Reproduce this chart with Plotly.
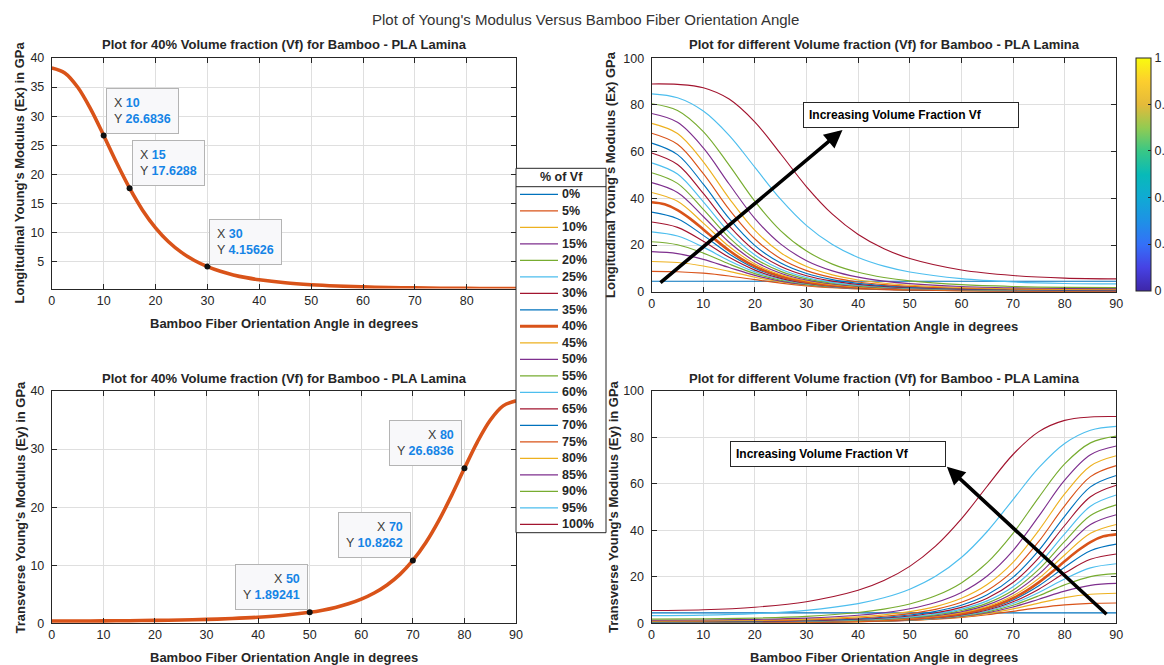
import plotly.graph_objects as go

W, H = 1164, 665
FONT = "Liberation Sans, Arial, Helvetica, sans-serif"
DARK = "#262626"
GRID = "#dfdfdf"
TIPBLUE = "#1584e6"

# ---------------- data ----------------
# fibre orientation angles (deg)
angles = [0, 5, 10, 15, 20, 25, 30, 35, 40, 45, 50, 60, 70, 80, 90]
angles_40 = [0, 2.5, 5, 7.5, 10, 12.5, 15, 17.5, 20, 22.5, 25, 27.5, 30, 32.5, 35, 37.5, 40,
             45, 50, 55, 60, 65, 70, 75, 80, 85, 90]

# longitudinal modulus Ex (GPa) for 40 % Vf
ex_40 = [38.3, 37.44, 34.97, 31.21, 26.6836, 21.99, 17.6288, 13.86, 10.8262, 8.431, 6.601, 5.210,
         4.15626, 3.351, 2.737, 2.262, 1.89241, 1.372, 1.039, 0.819, 0.671, 0.569, 0.498, 0.450,
         0.419, 0.401, 0.396]

# longitudinal modulus Ex (GPa) for the other volume fractions
ex_00 = [4.5, 4.5, 4.5, 4.5, 4.5, 4.5, 4.5, 4.5, 4.5, 4.5, 4.5, 4.5, 4.5, 4.5, 4.5]
ex_05 = [8.725, 8.552, 7.929, 6.730, 5.156, 3.659, 2.514, 1.736, 1.230, 0.903, 0.688, 0.445, 0.331, 0.278, 0.263]
ex_10 = [12.95, 12.49, 11.03, 8.702, 6.184, 4.143, 2.748, 1.860, 1.305, 0.953, 0.724, 0.469, 0.348, 0.293, 0.276]
ex_15 = [17.175, 16.34, 13.87, 10.36, 7.013, 4.545, 2.956, 1.982, 1.383, 1.007, 0.764, 0.494, 0.367, 0.309, 0.292]
ex_20 = [21.4, 20.11, 16.53, 11.86, 7.764, 4.925, 3.166, 2.109, 1.467, 1.067, 0.810, 0.523, 0.389, 0.327, 0.309]
ex_25 = [25.625, 23.85, 19.09, 13.29, 8.496, 5.312, 3.389, 2.249, 1.562, 1.134, 0.860, 0.556, 0.413, 0.348, 0.328]
ex_30 = [29.85, 27.55, 21.61, 14.71, 9.245, 5.724, 3.633, 2.404, 1.667, 1.211, 0.918, 0.593, 0.441, 0.371, 0.350]
ex_35 = [34.075, 31.25, 24.14, 16.17, 10.04, 6.175, 3.905, 2.580, 1.788, 1.298, 0.984, 0.636, 0.472, 0.397, 0.375]
ex_45 = [42.525, 38.73, 29.41, 19.35, 11.87, 7.252, 4.571, 3.015, 2.088, 1.515, 1.148, 0.742, 0.551, 0.464, 0.438]
ex_50 = [46.75, 42.54, 32.23, 21.16, 12.97, 7.917, 4.989, 3.290, 2.278, 1.653, 1.253, 0.810, 0.602, 0.506, 0.478]
ex_55 = [50.975, 46.42, 35.25, 23.20, 14.24, 8.701, 5.485, 3.619, 2.506, 1.818, 1.378, 0.891, 0.662, 0.557, 0.526]
ex_60 = [55.2, 50.40, 38.51, 25.52, 15.74, 9.641, 6.088, 4.020, 2.785, 2.021, 1.532, 0.990, 0.736, 0.619, 0.585]
ex_65 = [59.425, 54.50, 42.10, 28.21, 17.54, 10.80, 6.834, 4.518, 3.132, 2.274, 1.724, 1.115, 0.828, 0.697, 0.659]
ex_70 = [63.65, 58.74, 46.07, 31.39, 19.76, 12.25, 7.785, 5.157, 3.579, 2.600, 1.972, 1.275, 0.948, 0.797, 0.753]
ex_75 = [67.875, 63.15, 50.56, 35.24, 22.57, 14.14, 9.037, 6.005, 4.173, 3.034, 2.302, 1.489, 1.107, 0.931, 0.880]
ex_80 = [72.1, 67.75, 55.67, 40.02, 26.26, 16.70, 10.76, 7.184, 5.005, 3.643, 2.766, 1.790, 1.330, 1.119, 1.058]
ex_85 = [76.325, 72.57, 61.61, 46.13, 31.32, 20.38, 13.30, 8.937, 6.248, 4.557, 3.463, 2.243, 1.667, 1.403, 1.325]
ex_90 = [80.55, 77.67, 68.60, 54.24, 38.72, 26.09, 17.39, 11.82, 8.313, 6.082, 4.630, 3.002, 2.232, 1.878, 1.774]
ex_95 = [84.775, 83.10, 77.41, 66.99, 53.26, 39.52, 28.31, 20.21, 14.68, 10.97, 8.462, 5.573, 4.174, 3.524, 3.333]
ex_100 = [89.0, 88.81, 87.37, 82.52, 72.66, 59.00, 44.95, 33.21, 24.51, 18.40, 14.20, 9.299, 6.924, 5.823, 5.5]

vf_labels = ["0%", "5%", "10%", "15%", "20%", "25%", "30%", "35%", "40%", "45%", "50%",
             "55%", "60%", "65%", "70%", "75%", "80%", "85%", "90%", "95%", "100%"]

# data-tip angles
tip_top_angles = [10, 15, 30]
tip_bottom_angles = [50, 70, 80]

# ---------------- styling ----------------
matlab_cycle = ["#0072BD", "#D95319", "#EDB120", "#7E2F8E", "#77AC30", "#4DBEEE", "#A2142F"]
family = [ex_00, ex_05, ex_10, ex_15, ex_20, ex_25, ex_30, ex_35, ex_40, ex_45, ex_50,
          ex_55, ex_60, ex_65, ex_70, ex_75, ex_80, ex_85, ex_90, ex_95, ex_100]
colors = [matlab_cycle[i % 7] for i in range(len(vf_labels))]

parula = [
    [0.0, "rgb(62,38,168)"], [0.1, "rgb(70,66,228)"], [0.2, "rgb(52,112,248)"],
    [0.3, "rgb(30,145,230)"], [0.4, "rgb(16,170,212)"], [0.5, "rgb(8,186,184)"],
    [0.6, "rgb(56,199,134)"], [0.7, "rgb(146,203,82)"], [0.8, "rgb(228,186,58)"],
    [0.9, "rgb(252,206,46)"], [1.0, "rgb(249,251,14)"],
]


def px_x(p):
    return p / W


def px_y(p):
    return 1 - p / H


fig = go.Figure()

# ---- top-left: 40 % Ex ----
fig.add_trace(go.Scatter(x=angles_40, y=ex_40, mode="lines", line=dict(color="#D95319", width=3.6, shape="spline"),
                         xaxis="x", yaxis="y", hoverinfo="skip"))
tl_y = [ex_40[angles_40.index(a)] for a in tip_top_angles]
fig.add_trace(go.Scatter(x=tip_top_angles, y=tl_y, mode="markers", marker=dict(color="#111", size=6),
                         xaxis="x", yaxis="y", hoverinfo="skip"))

# ---- bottom-left: 40 % Ey (mirror of Ex) ----
angles_40_t = [90 - a for a in angles_40]
fig.add_trace(go.Scatter(x=angles_40_t, y=ex_40, mode="lines", line=dict(color="#D95319", width=3.6, shape="spline"),
                         xaxis="x3", yaxis="y3", hoverinfo="skip"))
bl_y = [ex_40[angles_40.index(90 - a)] for a in tip_bottom_angles]
fig.add_trace(go.Scatter(x=tip_bottom_angles, y=bl_y, mode="markers", marker=dict(color="#111", size=6),
                         xaxis="x3", yaxis="y3", hoverinfo="skip"))

# ---- right: families ----
for lab, ys, col in zip(vf_labels, family, colors):
    xs = angles_40 if ys is ex_40 else angles
    w = 2.6 if lab == "40%" else 1.15
    fig.add_trace(go.Scatter(x=xs, y=ys, mode="lines", line=dict(color=col, width=w, shape="spline"),
                             xaxis="x2", yaxis="y2", hoverinfo="skip"))
    fig.add_trace(go.Scatter(x=[90 - a for a in xs], y=ys, mode="lines",
                             line=dict(color=col, width=w, shape="spline"),
                             xaxis="x4", yaxis="y4", hoverinfo="skip"))

# colour bar (invisible carrier marker)
fig.add_trace(go.Scatter(
    x=[angles[0]], y=[ex_100[0]], mode="markers", xaxis="x2", yaxis="y2", hoverinfo="skip",
    marker=dict(size=1, opacity=0, color=[0], cmin=0, cmax=1, colorscale=parula, showscale=True,
                colorbar=dict(x=px_x(1136), xanchor="left", xpad=0, ypad=0,
                              y=px_y(174.2), yanchor="middle", len=(290.5 - 57.8) / H, lenmode="fraction",
                              thickness=14.5, outlinecolor=DARK, outlinewidth=1,
                              tickvals=[0, 0.2, 0.4, 0.6, 0.8, 1], ticktext=["0", "0.2", "0.4", "0.6", "0.8", "1"],
                              ticks="inside", ticklen=3, tickcolor=DARK,
                              tickfont=dict(family=FONT, size=12.5, color=DARK)))))

# ---------------- axes ----------------
def ax(**kw):
    base = dict(showline=True, linecolor=DARK, linewidth=1, mirror="ticks", ticks="inside", ticklen=5,
                tickwidth=1, tickcolor=DARK, showgrid=True, gridcolor=GRID, gridwidth=1, zeroline=False,
                tickfont=dict(family=FONT, size=12.5, color=DARK), fixedrange=True)
    base.update(kw)
    return base


fig.update_layout(
    width=W, height=H, margin=dict(l=0, r=0, t=0, b=0, autoexpand=False),
    paper_bgcolor="white", plot_bgcolor="white",
    showlegend=False,
    xaxis=ax(domain=[px_x(51.8), px_x(516)], range=[0, 89.5], tickvals=[0, 10, 20, 30, 40, 50, 60, 70, 80], anchor="y"),
    yaxis=ax(domain=[px_y(288.5), px_y(58)], range=[0.396, 40], tickvals=[5, 10, 15, 20, 25, 30, 35, 40], anchor="x",
             ticklabelstandoff=4),
    xaxis2=ax(domain=[px_x(651.7), px_x(1116.3)], range=[0, 90], dtick=10, anchor="y2"),
    yaxis2=ax(domain=[px_y(291.7), px_y(58.3)], range=[0, 100], dtick=20, anchor="x2", ticklabelstandoff=4),
    xaxis3=ax(domain=[px_x(51.8), px_x(516)], range=[0, 90], dtick=10, anchor="y3"),
    yaxis3=ax(domain=[px_y(623.3), px_y(391)], range=[0, 40], dtick=10, anchor="x3", ticklabelstandoff=4),
    xaxis4=ax(domain=[px_x(651.5), px_x(1116.3)], range=[0, 90], dtick=10, anchor="y4"),
    yaxis4=ax(domain=[px_y(623.3), px_y(391)], range=[0, 100], dtick=20, anchor="x4", ticklabelstandoff=4),
)

ann = []


def text(x, y, s, size=13, bold=True, angle=0, color=DARK, xanchor="center"):
    ann.append(dict(x=px_x(x), y=px_y(y), xref="paper", yref="paper", text=s, showarrow=False,
                    textangle=angle, xanchor=xanchor, yanchor="middle",
                    font=dict(family=FONT, size=size, color=color, weight="bold" if bold else "normal")))


# super title & titles
text(585, 19, "Plot of Young's Modulus Versus Bamboo Fiber Orientation Angle", size=15, bold=False, color="#333333")
text(284, 44.5, "Plot for 40% Volume fraction (Vf) for Bamboo - PLA Lamina", size=13)
text(884, 44.5, "Plot for different Volume fraction (Vf) for Bamboo - PLA Lamina", size=13)
text(284, 378, "Plot for 40% Volume fraction (Vf) for Bamboo - PLA Lamina", size=13)
text(884, 378, "Plot for different Volume fraction (Vf) for Bamboo - PLA Lamina", size=13)
# x titles
for cx, cy in [(284, 324), (884, 326), (284, 657), (884, 657)]:
    text(cx, cy, "Bamboo Fiber Orientation Angle in degrees", size=13)
# y titles
text(19.5, 173, "Longitudinal Young's Modulus (Ex) in GPa", size=13, angle=-90)
text(611, 175, "Longitudinal Young's Modulus (Ex) GPa", size=13, angle=-90)
text(19.5, 507, "Transverse Young's Modulus (Ey) in GPa", size=13, angle=-90)
text(613, 507, "Transverse Young's Modulus (Ey) in GPa", size=13, angle=-90)


# data tips
def tip(xv, yv, axx, axy, right=False):
    s = (f"X <b><span style='color:{TIPBLUE}'>{xv:g}</span></b><br>"
         f"Y <b><span style='color:{TIPBLUE}'>{yv:g}</span></b>")
    ann.append(dict(x=xv, y=yv, xref=axx, yref=axy, text=s, showarrow=False,
                    xanchor="right" if right else "left", yanchor="bottom",
                    xshift=-2 if right else 2, yshift=2, align="right" if right else "left",
                    bgcolor="#f8f8fa", bordercolor="#b4b4b4", borderwidth=1, borderpad=7,
                    font=dict(family=FONT, size=12.5, color="#3c3c3c")))


for a, v in zip(tip_top_angles, tl_y):
    tip(a, v, "x", "y")
for a, v in zip(tip_bottom_angles, bl_y):
    tip(a, v, "x3", "y3", right=True)

# arrows with text boxes
ann.append(dict(x=36.96, y=69.3, ax=1.4, ay=3.3, xref="x2", yref="y2", axref="x2", ayref="y2", text="",
                showarrow=True, arrowhead=2, arrowsize=1.0, arrowwidth=3.6, arrowcolor="black", standoff=0))
ann.append(dict(x=50.3, y=75.5, xref="x2", yref="y2", text="Increasing Volume Fraction Vf", showarrow=False,
                xanchor="center", yanchor="middle",
                width=204, align="left", bgcolor="white", bordercolor=DARK, borderwidth=1, borderpad=5,
                font=dict(family=FONT, size=12, color="black", weight="bold")))
ann.append(dict(x=57.2, y=67.4, ax=88.4, ay=3.3, xref="x4", yref="y4", axref="x4", ayref="y4", text="",
                showarrow=True, arrowhead=2, arrowsize=1.0, arrowwidth=3.6, arrowcolor="black", standoff=0))
ann.append(dict(x=36.1, y=72.9, xref="x4", yref="y4", text="Increasing Volume Fraction Vf", showarrow=False,
                xanchor="center", yanchor="middle",
                width=204, align="left", bgcolor="white", bordercolor=DARK, borderwidth=1, borderpad=5,
                font=dict(family=FONT, size=12, color="black", weight="bold")))

# ---------------- manual legend ----------------
shapes = []
LX0, LX1, LY0, LY1 = 516, 606, 168.3, 532.7
shapes.append(dict(type="rect", xref="paper", yref="paper", x0=px_x(LX0), x1=px_x(LX1), y0=px_y(LY1), y1=px_y(LY0),
                   line=dict(color=DARK, width=1), fillcolor="white", layer="above"))
shapes.append(dict(type="line", xref="paper", yref="paper", x0=px_x(LX0), x1=px_x(LX1), y0=px_y(186.7), y1=px_y(186.7),
                   line=dict(color=DARK, width=1), layer="above"))
text(561.5, 177, "% of Vf", size=12.5)
for i, (lab, col) in enumerate(zip(vf_labels, colors)):
    yy = 194.3 + 16.5 * i
    shapes.append(dict(type="line", xref="paper", yref="paper", x0=px_x(520), x1=px_x(558), y0=px_y(yy), y1=px_y(yy),
                       line=dict(color=col, width=3 if lab == "40%" else 1.3), layer="above"))
    text(560, yy, lab, size=12.5, xanchor="left")

fig.update_layout(annotations=ann, shapes=shapes)
fig.write_html("out.html")
